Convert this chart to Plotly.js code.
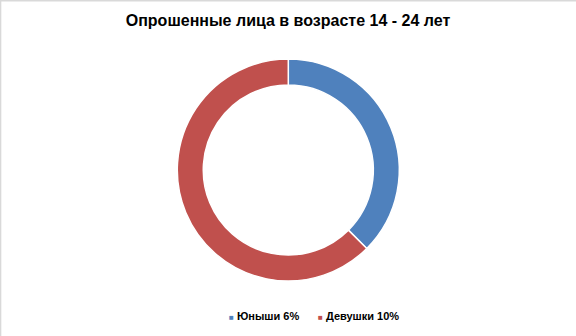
<!DOCTYPE html>
<html><head><meta charset="utf-8">
<script src="https://cdn.plot.ly/plotly-3.0.1.min.js"></script>
<style>html,body{margin:0;padding:0;background:#fff}#chart{width:576px;height:336px}</style>
</head><body><div id="chart"></div>
<script>
var labels = ["Юныши 6%", "Девушки 10%"];
var values = [6, 10];
var colors = ["#4f81bd", "#c0504d"];
var titleText = "Опрошенные лица в возрасте 14 - 24 лет";

var trace = {
  type: "pie",
  labels: labels,
  values: values,
  hole: 0.766,
  sort: false,
  direction: "clockwise",
  rotation: 0,
  textinfo: "none",
  hoverinfo: "label+value",
  marker: {colors: colors, line: {color: "#ffffff", width: 1.5}},
  domain: {x: [0.3078, 0.6932], y: [0.1637, 0.8244]}
};

var legendX = [0.394, 0.549];
var annotations = labels.map(function (lab, i) {
  return {
    xref: "paper", yref: "paper", x: legendX[i], y: 0.059,
    xanchor: "left", yanchor: "middle", showarrow: false,
    text: "<span style='color:" + colors[i] + ";font-size:8px'>■</span> <b>" + lab + "</b>",
    font: {family: "Liberation Sans, Arial, sans-serif", size: 11, color: "#000000"}
  };
});

var layout = {
  width: 576, height: 336,
  margin: {l: 0, r: 0, t: 0, b: 0},
  paper_bgcolor: "#ffffff",
  title: {text: "<b>" + titleText + "</b>", x: 0.5, xanchor: "center", y: 0.94, yanchor: "middle",
          font: {family: "Liberation Sans, Arial, sans-serif", size: 16, color: "#000000"}},
  showlegend: false,
  annotations: annotations,
  shapes: [
    {type: "line", xref: "paper", yref: "paper", x0: 0, x1: 1, y0: 0.998, y1: 0.998, line: {color: "#d9d9d9", width: 1.5}},
    {type: "line", xref: "paper", yref: "paper", x0: 0.001, x1: 0.001, y0: 0, y1: 1, line: {color: "#d9d9d9", width: 1.5}}
  ]
};
Plotly.newPlot("chart", [trace], layout, {displayModeBar: false, staticPlot: true});
</script></body></html>
